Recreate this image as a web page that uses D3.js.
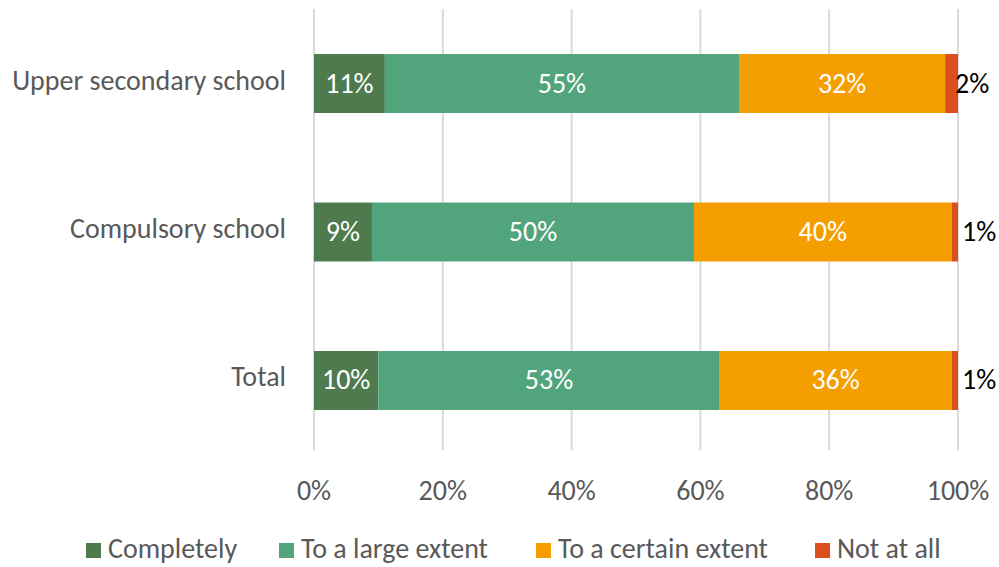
<!DOCTYPE html>
<html>
<head>
<meta charset="utf-8">
<script src="https://cdn.jsdelivr.net/npm/d3@7"></script>
<style>
  html, body { margin: 0; padding: 0; background: #fff; }
  svg { display: block; font-family: Carlito, Lato, "Open Sans", sans-serif; }
</style>
</head>
<body>
<svg id="chart" width="999" height="567"></svg>
<script>
// Share of responses by school level (percent)
const categories = ["Upper secondary school", "Compulsory school", "Total"];
const seriesNames = ["Completely", "To a large extent", "To a certain extent", "Not at all"];
const completely = [11, 9, 10];
const largeExtent = [55, 50, 53];
const certainExtent = [32, 40, 36];
const notAtAll = [2, 1, 1];
const tickValues = [0, 20, 40, 60, 80, 100];

const colors = ["#4E7A4E", "#52A47D", "#F59E00", "#DA4F1B"];
const labelColors = ["#ffffff", "#ffffff", "#ffffff", "#000000"];

const rows = categories.map((c, i) => ({
  category: c,
  "Completely": completely[i],
  "To a large extent": largeExtent[i],
  "To a certain extent": certainExtent[i],
  "Not at all": notAtAll[i]
}));

const stack = d3.stack().keys(seriesNames);
const layers = stack(rows);

const svg = d3.select("#chart");
const plotLeft = 314, plotRight = 958, plotTop = 9, plotBottom = 450;
const FS = 28;

const x = d3.scaleLinear().domain([0, 100]).range([plotLeft, plotRight]);
const y = d3.scaleBand().domain(categories).range([9.5, 454.5]).paddingInner(0.603).paddingOuter(0.3);

// vertical gridlines
svg.append("g")
  .selectAll("line")
  .data(tickValues)
  .join("line")
  .attr("x1", d => x(d)).attr("x2", d => x(d))
  .attr("y1", plotTop).attr("y2", plotBottom)
  .attr("stroke", "#d9d9d9").attr("stroke-width", 2);

// x-axis tick labels
svg.append("g")
  .selectAll("text")
  .data(tickValues)
  .join("text")
  .attr("x", d => x(d))
  .attr("y", 500)
  .attr("text-anchor", "middle")
  .attr("fill", "#595959")
  .attr("font-size", FS)
  .text(d => d + "%");

// category labels
svg.append("g")
  .selectAll("text")
  .data(categories)
  .join("text")
  .attr("x", 286)
  .attr("y", d => y(d) + y.bandwidth() / 2 + 6)
  .attr("text-anchor", "end")
  .attr("fill", "#595959")
  .attr("font-size", FS)
  .text(d => d);

// stacked bars
const layerG = svg.append("g")
  .selectAll("g")
  .data(layers)
  .join("g")
  .attr("fill", (d, i) => colors[i]);

layerG.selectAll("rect")
  .data(d => d)
  .join("rect")
  .attr("x", d => x(d[0]))
  .attr("width", d => x(d[1]) - x(d[0]))
  .attr("y", d => y(d.data.category))
  .attr("height", y.bandwidth());

// value labels: inside the segment, or just past the bar end for the last series
svg.append("g")
  .selectAll("g")
  .data(layers)
  .join("g")
  .each(function(layer, li) {
    d3.select(this).selectAll("text")
      .data(layer)
      .join("text")
      .attr("x", d => li === 3 ? x(d[1]) - 3 + (d[1] - d[0] === 1 ? 7 : 0) : (x(d[0]) + x(d[1])) / 2)
      .attr("y", d => y(d.data.category) + y.bandwidth() / 2 + 9)
      .attr("text-anchor", li === 3 ? "start" : "middle")
      .attr("fill", labelColors[li])
      .attr("font-size", FS)
      .text(d => (d[1] - d[0]) + "%");
  });

// legend
const legendX = [86, 279, 536, 815];
const legend = svg.append("g")
  .selectAll("g")
  .data(seriesNames)
  .join("g")
  .attr("transform", (d, i) => `translate(${legendX[i]},558)`);

legend.append("rect")
  .attr("x", 0).attr("y", -15)
  .attr("width", 15).attr("height", 15)
  .attr("fill", (d, i) => colors[i]);

legend.append("text")
  .attr("x", 22)
  .attr("fill", "#595959")
  .attr("font-size", FS)
  .text(d => d);
</script>
</body>
</html>
